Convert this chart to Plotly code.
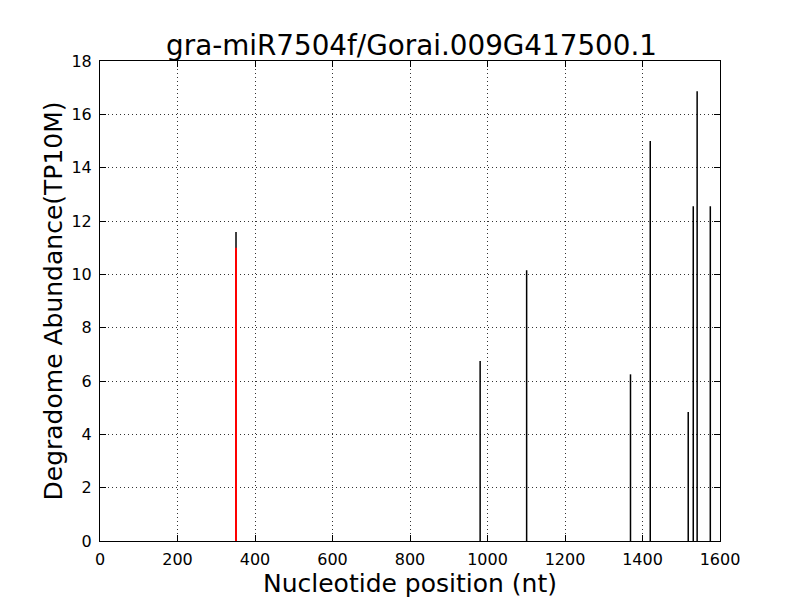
import plotly.graph_objects as go

positions = [351, 981, 1101, 1369, 1420, 1518, 1531, 1541, 1575]
abundance = [11.59, 6.75, 10.15, 6.25, 15.0, 4.84, 12.55, 16.87, 12.55]
target_pos = [351]
target_abund = [11.0]

def stems(xs, ys):
    X, Y = [], []
    for x, y in zip(xs, ys):
        X += [x, x, None]
        Y += [0, y, None]
    return X, Y

fig = go.Figure()
bx, by = stems(positions, abundance)
fig.add_trace(go.Scatter(x=bx, y=by, mode="lines", line=dict(color="black", width=1.5),
                         showlegend=False, hoverinfo="skip"))
rx, ry = stems(target_pos, target_abund)
fig.add_trace(go.Scatter(x=rx, y=ry, mode="lines", line=dict(color="red", width=2),
                         showlegend=False, hoverinfo="skip"))

axis_common = dict(showline=True, linecolor="black", linewidth=1, mirror="ticks",
                   ticks="inside", ticklen=6, tickcolor="black",
                   showgrid=True, gridcolor="#333333", griddash="1px,3px", gridwidth=1,
                   zeroline=False, automargin=False,
                   tickfont=dict(size=16, color="black"))

fig.update_layout(
    width=800, height=600,
    paper_bgcolor="white", plot_bgcolor="white",
    margin=dict(l=92, r=88, t=53, b=67),
    font=dict(family="DejaVu Sans", color="black"),
    title=dict(text="gra-miR7504f/Gorai.009G417500.1", x=(410 - 8) / 800, xanchor="center",
               xref="paper", y=1 - 37/600, yanchor="middle", font=dict(size=27.8)),
    xaxis=dict(range=[0, 1600], tick0=0, dtick=200, ticklabelstandoff=4,
               title=dict(text="Nucleotide position (nt)", font=dict(size=25), standoff=5),
               **axis_common),
    yaxis=dict(range=[0, 18], tick0=0, dtick=2, ticklabelstandoff=4,
               title=dict(text="Degradome Abundance(TP10M)", font=dict(size=25), standoff=1),
               **axis_common),
)

fig.write_html("out.html")
